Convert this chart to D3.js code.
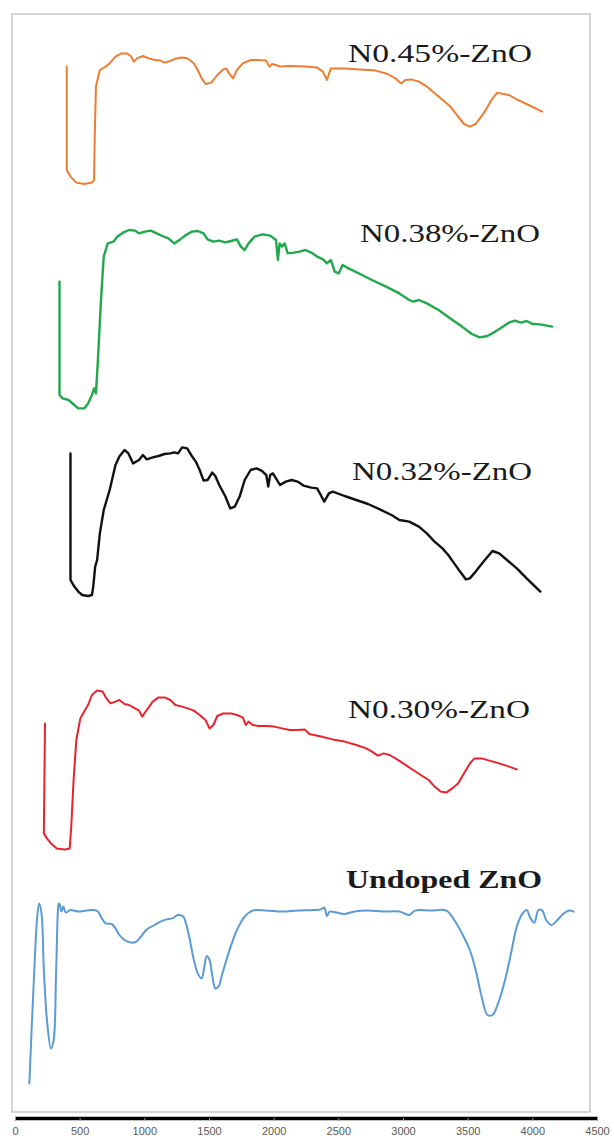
<!DOCTYPE html>
<html>
<head>
<meta charset="utf-8">
<script src="https://cdn.jsdelivr.net/npm/d3@7"></script>
<style>
  html, body { margin: 0; padding: 0; background: #fff; }
  svg { display: block; }
  .tick text { font-family: "Liberation Sans", Arial, sans-serif; fill: #595959; }
</style>
</head>
<body>
<div id="chart"></div>
<script>
// wavenumber (cm-1) ticks along the bottom
const xTicks = [0, 500, 1000, 1500, 2000, 2500, 3000, 3500, 4000, 4500];

const names = ['N0.45%-ZnO', 'N0.38%-ZnO', 'N0.32%-ZnO', 'N0.30%-ZnO', 'Undoped ZnO'];
// vertical shift of each spectrum (stacked plot, same units as transmittance)
const stackOffsets = [447, 335, 240, 115, 0];

// [wavenumber, transmittance]
const n045 = [
  [400, 67.2], [400, 15.5], [429, 12.2], [474, 9.2], [535, 8.5], [595, 9.2], [611, 10.5], [617, 33.8],
  [626, 57.2], [656, 65.5], [701, 67.2], [732, 68.8], [777, 72.2], [823, 73.8], [868, 73.8], [898, 72.2],
  [919, 69.7], [943, 71.3], [989, 72.5], [1034, 71.3], [1080, 70.5], [1125, 70.2], [1155, 69.2], [1201, 70],
  [1246, 71.3], [1292, 71.8], [1337, 71.3], [1383, 68.8], [1413, 65.5], [1443, 61.3], [1474, 58.5], [1519, 59.2],
  [1564, 63], [1610, 65.8], [1634, 66.3], [1655, 63.8], [1686, 61.3], [1716, 65.5], [1761, 68.8], [1822, 70.5],
  [1882, 70.5], [1942, 70.2], [1967, 67.2], [1988, 68.5], [2018, 68], [2049, 67.2], [2124, 67.5], [2245, 67.2],
  [2336, 66.7], [2381, 64.7], [2412, 60.5], [2442, 66.3], [2548, 66.3], [2669, 65.8], [2790, 65.2], [2881, 63.5],
  [2942, 61.3], [2987, 58.8], [3017, 60.5], [3063, 60.8], [3123, 59.7], [3184, 57.2], [3275, 52.2], [3366, 47.2],
  [3426, 42.2], [3472, 38.5], [3517, 37.2], [3562, 38.5], [3623, 43.8], [3684, 50.5], [3729, 54.2], [3774, 53.5],
  [3820, 53], [3880, 50.8], [3971, 48], [4077, 44.7]
];
const n038 = [
  [344, 71.7], [344, 15], [368, 13.3], [414, 12.5], [459, 10], [489, 8.3], [535, 8.3], [565, 10.8],
  [595, 15], [611, 18.3], [626, 15.8], [641, 32.5], [665, 62.5], [686, 84.2], [717, 90.8], [762, 91.7],
  [792, 94.2], [838, 96.3], [883, 97.5], [928, 97.2], [959, 95.8], [1004, 96.7], [1050, 97.2], [1095, 95.8],
  [1140, 94.5], [1186, 93.3], [1231, 90.8], [1277, 92.8], [1322, 95], [1367, 96.7], [1413, 97], [1458, 95.8],
  [1489, 92.8], [1534, 91.7], [1579, 92.2], [1625, 91.3], [1670, 92], [1716, 92.8], [1746, 89.2], [1776, 87.5],
  [1806, 90.8], [1852, 94.2], [1912, 95.3], [1973, 94.7], [2018, 92.5], [2033, 82.5], [2046, 90.8], [2064, 89.2],
  [2085, 90.8], [2109, 85.8], [2155, 86.2], [2200, 86.7], [2245, 87.5], [2291, 86.2], [2336, 84.2], [2382, 82.8],
  [2412, 80.8], [2442, 82.5], [2472, 76.7], [2503, 75.8], [2533, 80], [2578, 78.3], [2669, 75.5], [2760, 72.5],
  [2881, 68.8], [2972, 65.8], [3048, 62.5], [3078, 61.7], [3123, 62.5], [3184, 60.8], [3275, 57.5], [3366, 53.3],
  [3456, 49.2], [3532, 45.5], [3593, 43.8], [3653, 44.5], [3714, 46.7], [3774, 49.2], [3820, 51.2], [3865, 52.2],
  [3911, 51.2], [3956, 52], [4001, 50.5], [4062, 50.3], [4153, 49.2]
];
const n032 = [
  [429, 80.8], [429, 17.5], [459, 14.2], [489, 11.7], [520, 10], [565, 9.5], [595, 10], [605, 14.2],
  [620, 24.2], [635, 27.5], [656, 40.8], [686, 52.5], [732, 62.5], [777, 75], [807, 79.2], [847, 82.5],
  [877, 80.8], [913, 75.8], [959, 77.5], [989, 80], [1019, 77.8], [1065, 78.8], [1110, 79.5], [1156, 80.5],
  [1201, 80.8], [1231, 81.3], [1261, 80.8], [1292, 83.8], [1331, 83.3], [1367, 79.5], [1398, 76.7], [1428, 72.5],
  [1458, 67.2], [1489, 67.5], [1525, 71.2], [1549, 69.5], [1579, 65], [1625, 59.5], [1664, 53.3], [1700, 54.2],
  [1737, 59.2], [1776, 67.5], [1822, 72.5], [1867, 73.3], [1906, 72.2], [1943, 70], [1958, 64.2], [1973, 70],
  [1994, 70.8], [2018, 68.3], [2049, 65], [2094, 66.7], [2139, 67.5], [2185, 66.7], [2230, 64.7], [2291, 63.7],
  [2336, 63.3], [2360, 60.5], [2391, 56.7], [2427, 60.8], [2457, 61.7], [2548, 59.5], [2639, 57.5], [2730, 55.5],
  [2821, 52.8], [2911, 50], [2972, 47.5], [3048, 46.7], [3123, 44.2], [3184, 40.8], [3244, 36.7], [3305, 33.3],
  [3350, 30], [3396, 25.8], [3441, 21.7], [3487, 17.8], [3517, 18.3], [3562, 21.7], [3623, 26.7], [3692, 32],
  [3744, 30.8], [3804, 27.5], [3880, 23.3], [3956, 18.3], [4062, 11.7]
];
const n030 = [
  [232, 70.8], [223, 15.8], [247, 13.3], [278, 10.8], [323, 8.3], [384, 7.8], [423, 8.3], [435, 19.2],
  [453, 42.5], [474, 62.5], [505, 73.3], [535, 76.7], [565, 80], [595, 85], [635, 87.2], [677, 86.7],
  [707, 83.3], [738, 80.8], [777, 81.7], [807, 82.5], [847, 80.5], [883, 80], [928, 78.3], [959, 77.2],
  [983, 74.2], [1019, 77.5], [1065, 81.7], [1110, 83.8], [1156, 83.8], [1201, 82.5], [1240, 80], [1292, 79.2],
  [1337, 78.3], [1383, 77.2], [1428, 75], [1473, 72.5], [1504, 68.3], [1534, 70], [1564, 74.5], [1610, 75.8],
  [1670, 75.8], [1716, 75], [1761, 73.8], [1785, 70], [1806, 71.7], [1837, 70], [1882, 69.5], [1943, 69.5],
  [2003, 69.2], [2064, 68.3], [2124, 67.5], [2185, 67.5], [2239, 67.8], [2276, 65.5], [2366, 64.2], [2457, 62.8],
  [2548, 61.7], [2639, 60], [2715, 58.3], [2760, 56.7], [2805, 54.7], [2851, 55.8], [2896, 55], [2942, 53.3],
  [3002, 50.8], [3078, 47.5], [3138, 45], [3199, 42.5], [3244, 39.2], [3290, 36.7], [3335, 36.2], [3380, 38.3],
  [3426, 40.8], [3471, 45.8], [3517, 50.8], [3553, 53.3], [3608, 53.3], [3668, 52.2], [3744, 50.8], [3820, 49.2],
  [3880, 47.8]
];
const undoped = [
  [111, 5.8], [141, 50.8], [172, 89.2], [187, 95.8], [205, 90.8], [223, 62.5], [247, 37.5], [278, 23.3],
  [299, 27.5], [317, 59.2], [332, 92.5], [338, 95.8], [347, 95], [359, 91.7], [374, 94.2], [393, 91.2],
  [429, 92.5], [489, 91.7], [550, 92.2], [611, 92.5], [641, 91.7], [671, 88.3], [701, 85.8], [747, 85.5],
  [777, 83.3], [807, 80], [847, 77.5], [898, 76.2], [938, 76.7], [974, 79.2], [1019, 82.8], [1080, 85],
  [1125, 86.7], [1171, 87.8], [1216, 88.3], [1261, 90], [1301, 89.2], [1322, 85.8], [1352, 77.5], [1383, 67.5],
  [1413, 60.8], [1443, 58.3], [1464, 64.2], [1482, 69.5], [1504, 67.5], [1525, 60], [1549, 53.3], [1573, 54.2],
  [1604, 60.8], [1655, 71.7], [1716, 82.5], [1776, 89.2], [1837, 92.2], [1943, 92.2], [2064, 91.7], [2185, 92.2],
  [2306, 92.5], [2366, 92.8], [2391, 93.8], [2412, 89.5], [2433, 91.7], [2488, 91.2], [2548, 90.5], [2624, 91.7],
  [2730, 92.2], [2851, 91.7], [2972, 91.7], [3048, 90], [3093, 92.2], [3214, 92.2], [3335, 92.2], [3396, 87.5],
  [3456, 80.8], [3517, 72.5], [3562, 62.5], [3608, 49.2], [3653, 40], [3692, 40], [3735, 45.8], [3789, 57.5],
  [3835, 70.8], [3880, 84.2], [3925, 90.8], [3956, 92.5], [3986, 88.3], [4016, 86.2], [4047, 92.5], [4077, 92.2],
  [4107, 87.5], [4147, 85], [4183, 86.7], [4244, 90.8], [4289, 92.2], [4319, 91.7]
];

const spectra = [n045, n038, n032, n030, undoped];

// ---- layout / styling ----
const width = 614;
const height = 1139;
const colors = ['#ED7D31', '#21A84A', '#111111', '#E8232B', '#5B9BD5'];
const strokeW = [2, 2.4, 2.4, 2, 2];
const labelPos = [   // left x, baseline y, text width
  {x: 348, y: 62, w: 184},
  {x: 360, y: 242, w: 180},
  {x: 352, y: 480, w: 180},
  {x: 348, y: 718, w: 182},
  {x: 346, y: 888, w: 196}
];

const svg = d3.select('#chart')
  .append('svg')
  .attr('width', width)
  .attr('height', height);

// plot frame
svg.append('rect')
  .attr('x', 12)
  .attr('y', 14)
  .attr('width', 578)
  .attr('height', 1098)
  .attr('fill', 'none')
  .attr('stroke', '#c8c8c8')
  .attr('stroke-width', 1.5);

const x = d3.scaleLinear()
  .domain([0, 4500])
  .range([15, 597]);

const y = d3.scaleLinear()
  .domain([0, 540])
  .range([1095, 15]);

const line = d3.line()
  .x(d => x(d[0]))
  .y(d => y(d[1]));

spectra.forEach((data, i) => {
  const off = stackOffsets[i];
  const gen = line.y(d => y(d[1] + off))
    .curve(i === 4 ? d3.curveCatmullRom.alpha(0.5) : d3.curveLinear);
  svg.append('path')
    .datum(data)
    .attr('d', gen)
    .attr('fill', 'none')
    .attr('stroke', colors[i])
    .attr('stroke-width', strokeW[i])
    .attr('stroke-linejoin', 'round')
    .attr('stroke-linecap', 'round');
});

// series labels
svg.selectAll('text.name')
  .data(names)
  .enter()
  .append('text')
  .attr('class', 'name')
  .attr('x', (d, i) => labelPos[i].x)
  .attr('y', (d, i) => labelPos[i].y)
  .attr('textLength', (d, i) => labelPos[i].w)
  .attr('lengthAdjust', 'spacingAndGlyphs')
  .attr('font-family', '"Liberation Serif", "DejaVu Serif", serif')
  .attr('font-size', 25)
  .attr('font-weight', (d, i) => i === 4 ? 'bold' : 'normal')
  .attr('fill', '#1a1a1a')
  .text(d => d);

// bottom axis
const axis = d3.axisBottom(x)
  .tickValues(xTicks)
  .tickFormat(d3.format('d'))
  .tickSizeInner(3)
  .tickSizeOuter(0)
  .tickPadding(6);

const ax = svg.append('g')
  .attr('transform', 'translate(0,1118)')
  .call(axis);

ax.select('.domain')
  .attr('stroke', '#000')
  .attr('stroke-width', 3.5);
ax.selectAll('.tick line')
  .attr('stroke', '#9a9a9a');
ax.selectAll('.tick text')
  .attr('font-size', 11);
</script>
</body>
</html>
